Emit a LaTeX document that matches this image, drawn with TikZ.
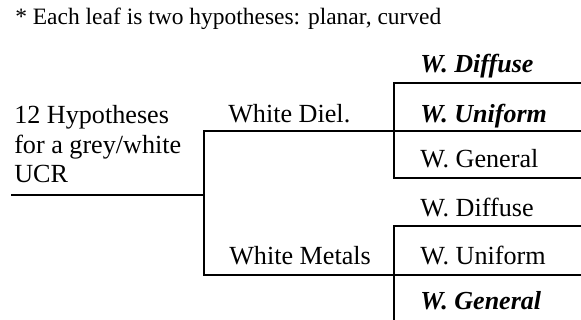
\documentclass[tikz,border=0pt]{standalone}
\usepackage{fontspec}
\setmainfont{Liberation Serif}
\tikzset{
	branch/.style={line width=1.3pt, line cap=rect},
	hyp/.style={anchor=base west, inner sep=0pt, font=\fontsize{18.6}{22}\selectfont},
	note/.style={hyp, font=\fontsize{16.7}{20}\selectfont},
	best/.style={hyp, font=\fontsize{18.5}{22}\selectfont\bfseries\itshape},
}

\begin{document}
\begin{tikzpicture}
			%%%%% START %%%%%
			\useasboundingbox (0, 0) rectangle (14.525, 8);
			
			\node[note] (remark) at (0.375, 7.375) {* Each leaf is two hypotheses: planar, curved};
			
			% root of the tree
			\node[hyp] (rootA) at (0.35, 4.9) {12 Hypotheses};
			\node[hyp] (rootB) at (0.35, 4.15) {for a grey/white};
			\node[hyp] (rootC) at (0.35, 3.425) {UCR};
			
			\coordinate (ucr) at (0.3, 3.125);
			\coordinate (fork) at (5.1, 3.125);
			\coordinate (dielA) at (5.1, 4.725);
			\coordinate (dielB) at (14.525, 4.725);
			\coordinate (metalA) at (5.1, 1.125);
			\coordinate (metalB) at (14.525, 1.125);
			
			\draw[branch] (ucr) -- (fork);
			\draw[branch] (dielB) -- (dielA) -- (metalA) -- (metalB);
			
			\node[hyp] (diel) at (5.7, 4.925) {White Diel.};
			\node[hyp] (metal) at (5.725, 1.375) {White Metals};
			
			% leaves under the dielectrics
			\coordinate (dtopA) at (9.85, 5.925);
			\coordinate (dtopB) at (14.525, 5.925);
			\coordinate (dbotA) at (9.85, 3.55);
			\coordinate (dbotB) at (14.525, 3.55);
			\draw[branch] (dtopB) -- (dtopA) -- (dbotA) -- (dbotB);
			
			\node[best] (dDiff) at (10.5, 6.175) {W. Diffuse};
			\node[best] (dUni) at (10.5, 4.925) {W. Uniform};
			\node[hyp] (dGen) at (10.5, 3.8) {W. General};
			
			% leaves under the metals
			\coordinate (mtopA) at (9.85, 2.35);
			\coordinate (mtopB) at (14.525, 2.35);
			\coordinate (mend) at (9.85, 0);
			\draw[branch] (mtopB) -- (mtopA) -- (mend);
			
			\node[hyp] (mDiff) at (10.5, 2.575) {W. Diffuse};
			\node[hyp] (mUni) at (10.5, 1.375) {W. Uniform};
			\node[best] (mGen) at (10.5, 0.25) {W. General};
			
			%%%%% END %%%%%
\end{tikzpicture}
\end{document}
